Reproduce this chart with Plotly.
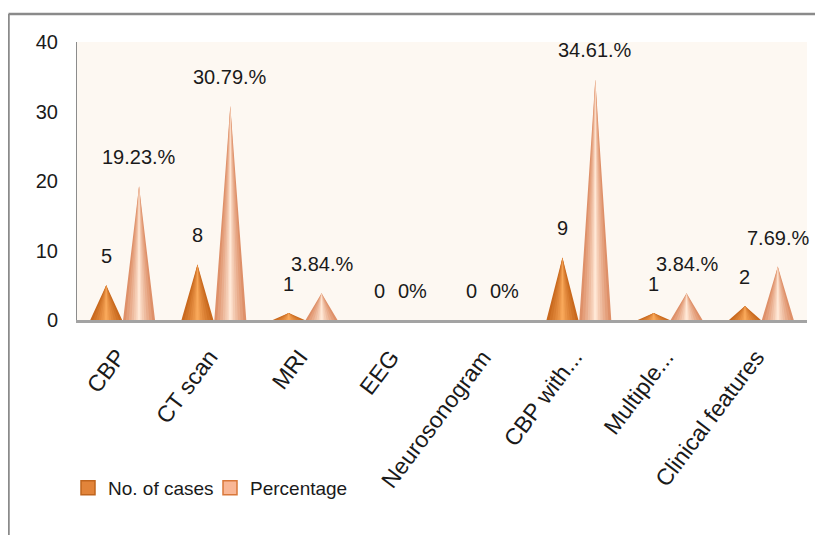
import plotly.graph_objects as go

categories = ["CBP", "CT scan", "MRI", "EEG", "Neurosonogram", "CBP with...", "Multiple...", "Clinical features"]
cases = [5, 8, 1, 0, 0, 9, 1, 2]
percentage = [19.23, 30.79, 3.84, 0, 0, 34.61, 3.84, 7.69]
case_labels = ["5", "8", "1", "0", "0", "9", "1", "2"]
pct_labels = ["19.23.%", "30.79.%", "3.84.%", "0%", "0%", "34.61.%", "3.84.%", "7.69.%"]

FONT = "Liberation Sans, Arial, sans-serif"
TXT = "#1a1a1a"

OFFSET = 0.18
HALF = 0.175

def lerp(c1, c2, t):
    a = [int(c1[i:i + 2], 16) for i in (1, 3, 5)]
    b = [int(c2[i:i + 2], 16) for i in (1, 3, 5)]
    return "#%02x%02x%02x" % tuple(round(a[k] + (b[k] - a[k]) * t) for k in range(3))

fig = go.Figure()

series = [
    (cases, -OFFSET, "#C9691E", "#F9A85A"),
    (percentage, OFFSET, "#DE9069", "#FFE8D6"),
]
fracs = [1.0, 0.82, 0.64, 0.47, 0.32, 0.18, 0.08]
for vals, off, edge, center in series:
    for k, f in enumerate(fracs):
        xs, ys = [], []
        for i, v in enumerate(vals):
            if v <= 0:
                continue
            c = i + off
            xs += [c - HALF * f, c, c + HALF * f, c - HALF * f, None]
            ys += [0, v, 0, 0, None]
        col = lerp(edge, center, k / (len(fracs) - 1))
        fig.add_trace(go.Scatter(x=xs, y=ys, fill="toself", fillcolor=col, mode="lines",
                                 line=dict(width=0, color=col), showlegend=False, hoverinfo="skip"))

# legend entries
fig.add_trace(go.Scatter(x=[None], y=[None], mode="markers", name="No. of cases",
                         marker=dict(symbol="square", size=14, color="#E2843A",
                                     line=dict(color="#C0651E", width=1.5))))
fig.add_trace(go.Scatter(x=[None], y=[None], mode="markers", name="Percentage",
                         marker=dict(symbol="square", size=14, color="#F9B796",
                                     line=dict(color="#D9783A", width=1.5))))

# page body has an 8px margin: layout is expressed in screen pixels, converted here
PAGE = 8
W, H = 823, 535
PL, PR, PT, PB = 77, 807, 42, 320          # plot area in screen pixels
L, T = PL - PAGE, PT - PAGE
R = W - (PR - PAGE)
B = H - (PB - PAGE)
pw, ph = PR - PL, PB - PT

def px_x(p):
    return (p - PL) / pw

def px_y(p):
    return (PB - p) / ph

for i, (v, t) in enumerate(zip(cases, case_labels)):
    fig.add_annotation(x=i - OFFSET, y=v, text=t, showarrow=False, yanchor="bottom", yshift=16,
                       font=dict(family=FONT, size=20, color=TXT))
for i, (v, t) in enumerate(zip(percentage, pct_labels)):
    fig.add_annotation(x=i + OFFSET, y=v, text=t, showarrow=False, yanchor="bottom", yshift=16,
                       font=dict(family=FONT, size=20, color=TXT))

# rotated category labels under the axis
for i, t in enumerate(categories):
    fig.add_annotation(x=i + 0.12, y=px_y(342), xref="x", yref="paper", text=t, showarrow=False,
                       textangle=-53, xanchor="right", yanchor="top",
                       font=dict(family=FONT, size=23, color=TXT))

fig.add_shape(type="line", xref="paper", yref="paper", x0=px_x(8.5), x1=px_x(823), y0=px_y(14), y1=px_y(14),
              line=dict(color="#8A8A8A", width=2.5))
fig.add_shape(type="line", xref="paper", yref="paper", x0=px_x(8.5), x1=px_x(8.5), y0=px_y(14), y1=px_y(540),
              line=dict(color="#8A8A8A", width=2.5))

fig.update_layout(
    width=W, height=H,
    margin=dict(l=L, r=R, t=T, b=B, autoexpand=False),
    paper_bgcolor="white",
    plot_bgcolor="#FDF8F2",
    showlegend=True,
    legend=dict(orientation="h", x=px_x(68), y=px_y(488), xanchor="left", yanchor="middle",
                font=dict(family=FONT, size=19, color=TXT), bgcolor="rgba(0,0,0,0)",
                itemwidth=30, entrywidth=97, traceorder="normal"),
    xaxis=dict(range=[-0.5, 7.5], tickmode="array", tickvals=list(range(len(categories))),
               showticklabels=False, showgrid=False, zeroline=False,
               showline=True, linecolor="#A3A3A3", linewidth=3, ticks=""),
    yaxis=dict(range=[0, 40], dtick=10, showgrid=False, zeroline=False, showline=True,
               linecolor="#8C8C8C", linewidth=1, ticks="", ticklabelstandoff=14,
               tickfont=dict(family=FONT, size=20, color=TXT)),
)

fig.write_html("out.html")
